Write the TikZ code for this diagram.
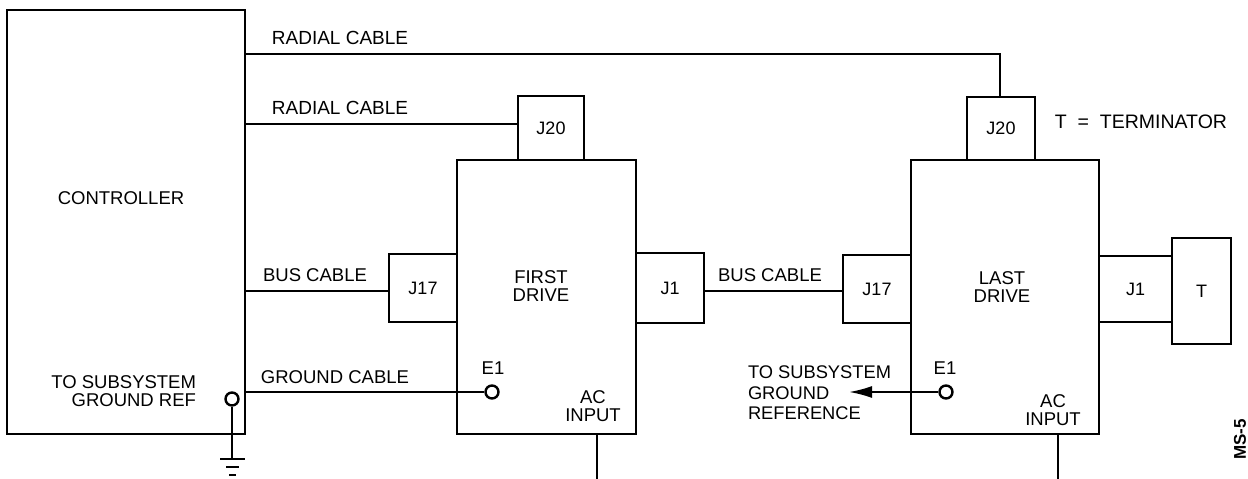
\documentclass[tikz,border=0pt]{standalone}
\usepackage{fontspec}
\setmainfont{Liberation Sans}
\usetikzlibrary{arrows.meta,positioning}

\begin{document}
\begin{tikzpicture}[
  x=1pt, y=-1pt,
  > = {Latex[length=23pt,width=12pt]},
  line width=2pt,
  box/.style = {rectangle, draw, minimum width=#1, inner sep=0pt, font=\fontsize{18}{18}\selectfont, align=center},
  lbl/.style = {inner sep=0pt, font=\fontsize{18.5}{18}\selectfont, align=center},
  hole/.style = {circle, draw, fill=white, minimum size=13pt, inner sep=0pt, line width=2.4pt}
]
\useasboundingbox (0,0) rectangle (1248,479);

% controller and drives
\node[box=238pt, minimum height=424pt] (ctrl) at (126,222) {};
\node[box=179pt, minimum height=274pt] (first) at (546.5,297) {};
\node[box=188pt, minimum height=274pt] (last) at (1005,297) {};

% connectors
\node[box=66pt, minimum height=64pt] (fj20) at (551,128) {J20};
\node[box=68pt, minimum height=68pt] (fj17) at (423,288) {J17};
\node[box=68pt, minimum height=70pt] (fj1) at (670,288) {J1};
\node[box=68pt, minimum height=63pt] (lj20) at (1001,128.5) {J20};
\node[box=68pt, minimum height=68pt] (lj17) at (877,289) {J17};
\node[box=73pt, minimum height=66pt] (lj1) at (1135.5,289) {J1};
\node[box=59pt, minimum height=106pt] (term) at (1201.5,291) {T};

% grounds and AC feeds
\node[hole] (fe1) at (492,392) {};
\node[hole] (le1) at (946,392) {};
\node[hole] (sg) at (232,399) {};
\coordinate (gnd) at (232,458);
\coordinate (facin) at (597,479);
\coordinate (lacin) at (1058,479);
\coordinate (rtop) at (1000,53.5);
\coordinate (rad) at (300,123.5);
\coordinate (bus) at (300,291);
\coordinate (refend) at (849,392);

% cables
\draw (ctrl.east |- rtop) -- (rtop) -- (lj20.north -| rtop);
\draw (ctrl.east |- rad) -- (fj20.west |- rad);
\draw (ctrl.east |- bus) -- (fj17.west |- bus);
\draw (fj1.east |- bus) -- (lj17.west |- bus);
\draw (ctrl.east |- fe1) -- (fe1);
\draw[->] (le1) -- (refend);
\draw (first.south -| facin) -- (facin);
\draw (last.south -| lacin) -- (lacin);
\draw[line width=2.6pt] (sg) -- (gnd);
\draw[line width=2.6pt] (220,459) -- (245,459);
\draw[line width=2.6pt] (226,467) -- (239,467);
\draw[line width=2.6pt] (229,475) -- (236,475);

% labels
\node[lbl] (ctl) at (121,198) {CONTROLLER};
\node[lbl, align=right, anchor=east] (sgref) at (197,391) {TO SUBSYSTEM\\GROUND REF};
\node[lbl, font=\fontsize{19}{19}\selectfont] (rc1) at (340,38) {RADIAL CABLE};
\node[lbl, font=\fontsize{19}{19}\selectfont] (rc2) at (340,108) {RADIAL CABLE};
\node[lbl] (bc1) at (315,275) {BUS CABLE};
\node[lbl] (gc) at (335,377) {GROUND CABLE};
\node[lbl] (bc2) at (770,275) {BUS CABLE};
\node[lbl] (fd) at (541,286) {FIRST\\DRIVE};
\node[lbl] (ld) at (1002,287) {LAST\\DRIVE};
\node[lbl] (fe) at (493,368) {E1};
\node[lbl] (le) at (945,368) {E1};
\node[lbl] (fac) at (593,406) {AC\\INPUT};
\node[lbl] (lac) at (1053,410) {AC\\INPUT};
\node[lbl, align=left, anchor=west, font=\fontsize{18.3}{20.5}\selectfont] (ref) at (747,393) {TO SUBSYSTEM\\GROUND\\REFERENCE};
\node[lbl, anchor=east, font=\fontsize{19.5}{20}\selectfont] (tt) at (1228,122) {T \;=\; TERMINATOR};
\node[lbl, rotate=90, anchor=east, font=\bfseries\fontsize{17}{18}\selectfont] (ms) at (1240,418) {MS-5};
\end{tikzpicture}
\end{document}
